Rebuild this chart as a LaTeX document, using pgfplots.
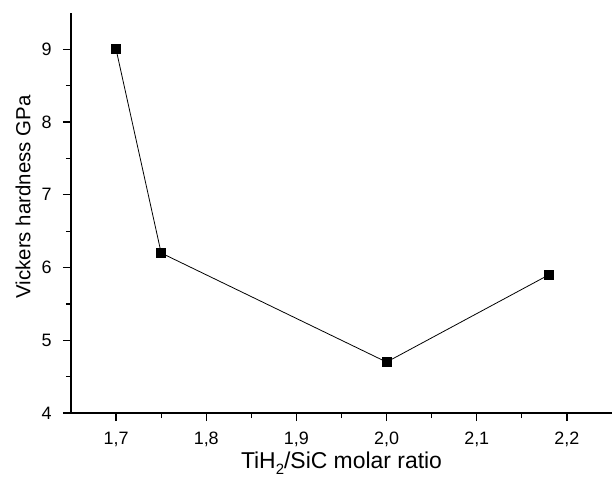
\documentclass[border=0pt]{standalone}
\usepackage{pgfplots}
\pgfplotsset{compat=1.18}
\usepackage{fontspec}
\setmainfont{Liberation Sans}
\newcommand{\tickfont}{\fontsize{18}{20}\selectfont}
\begin{document}
\begin{tikzpicture}
\useasboundingbox (0,0) rectangle (613bp,480bp);
\begin{axis}[
  at={(71bp,67bp)}, anchor=south west,
  scale only axis, width=541bp, height=400bp,
  xmin=1.65, xmax=2.25, ymin=4, ymax=9.5,
  axis lines*=left,
  axis line style={line width=1.6pt, -},
  xtick={1.7,1.8,1.9,2.0,2.1,2.2},
  ytick={4,5,6,7,8,9},
  minor x tick num=1, minor y tick num=1,
  tick align=outside,
  major tick length=8bp, minor tick length=5bp,
  every tick/.style={line width=1.2pt, black},
  xticklabels={{1,7},{1,8},{1,9},{2,0},{2,1},{2,2}},
  yticklabels={4,5,6,7,8,9},
  yticklabel style={font=\tickfont, anchor=east, xshift=-8bp},
  xticklabel style={font=\tickfont, anchor=center, yshift=-18bp},
  xlabel={TiH\raisebox{-0.45ex}{\fontsize{15}{16}\selectfont 2}/SiC molar ratio},
  ylabel={Vickers hardness GPa},
  xlabel style={font=\fontsize{23}{25}\selectfont, at={(axis description cs:0.5,0)}, anchor=center, yshift=-50bp},
  ylabel style={font=\fontsize{20.5}{23}\selectfont, at={(axis description cs:0,0.5)}, anchor=center, yshift=48bp, xshift=16bp},
]
\addplot[black, line width=0.8pt, mark=square*, mark size=4.5bp, mark options={solid}] coordinates {
(1.70,9.0) (1.75,6.2) (2.00,4.7) (2.18,5.9)
};
\end{axis}
\end{tikzpicture}
\end{document}
